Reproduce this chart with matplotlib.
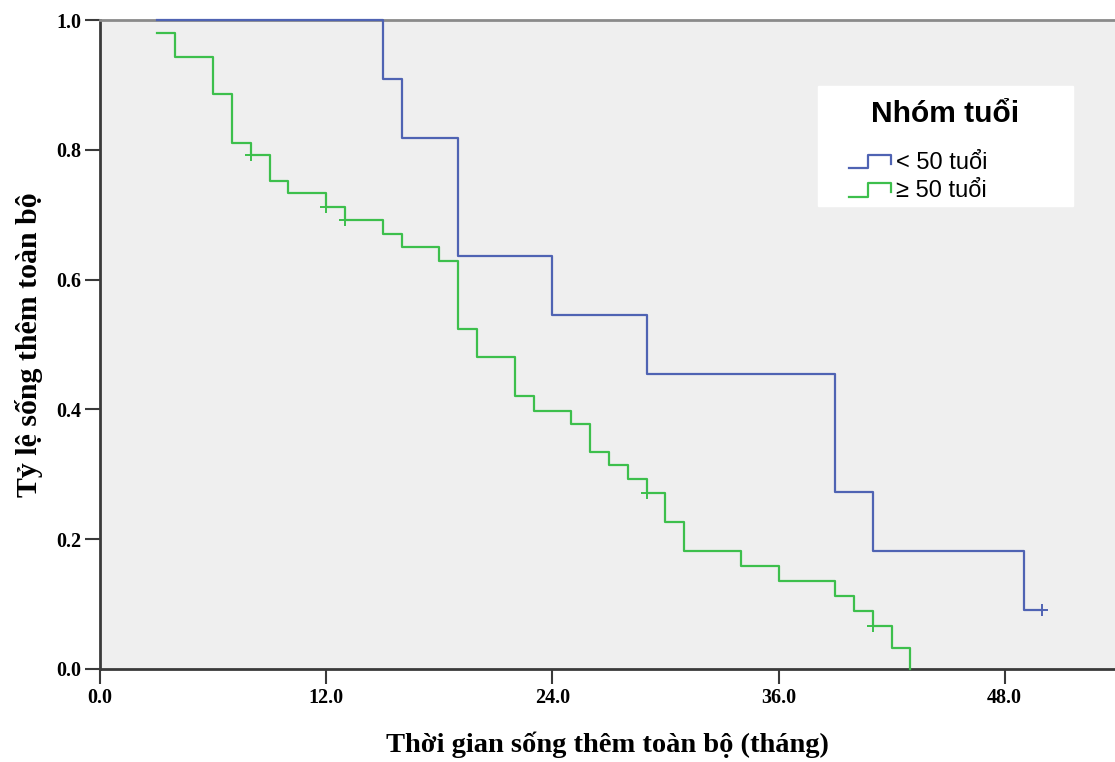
import matplotlib as mpl
mpl.use('Agg')
import matplotlib.pyplot as plt
from matplotlib.legend_handler import HandlerBase
from matplotlib.lines import Line2D
from matplotlib.ticker import FormatStrFormatter
import numpy as np

# Kaplan-Meier curves (months, survival)
young_t = [3, 15, 16, 19, 24, 29, 39, 41, 49, 50]
young_s = [1.0, 0.909, 0.818, 0.636, 0.545, 0.455, 0.273, 0.182, 0.091, 0.091]
young_cens_t = [50]
young_cens_s = [0.091]

old_t = [3, 4, 6, 7, 8, 9, 10, 12, 13, 15, 16, 18, 19, 20, 22, 23, 25, 26,
         27, 28, 29, 30, 31, 34, 36, 39, 40, 41, 42, 43]
old_s = [0.980, 0.943, 0.886, 0.810, 0.792, 0.752, 0.733, 0.712, 0.692,
         0.671, 0.651, 0.629, 0.524, 0.481, 0.420, 0.398, 0.378, 0.335,
         0.314, 0.293, 0.271, 0.227, 0.182, 0.159, 0.136, 0.112, 0.089,
         0.067, 0.032, 0.0]
old_cens_t = [8, 12, 13, 29, 41]
old_cens_s = [0.792, 0.712, 0.692, 0.271, 0.067]

labels = ['< 50 tuổi', '≥ 50 tuổi']
colors = ['#4f63b3', '#3dbf4c']
xticks = [0, 12, 24, 36, 48]
yticks = [0.0, 0.2, 0.4, 0.6, 0.8, 1.0]


class StepHandler(HandlerBase):
    # step-shaped legend key like SPSS, drawn in the right part of the slot
    def create_artists(self, legend, orig_handle, xdescent, ydescent,
                       width, height, fontsize, trans):
        xs = np.array([0.40, 0.68, 0.68, 1, 1]) * width - xdescent
        ys = np.array([0.05, 0.05, 0.85, 0.85, 0.3]) * height - ydescent
        ln = Line2D(xs, ys, color=orig_handle.get_color(),
                    lw=orig_handle.get_linewidth(), transform=trans)
        return [ln]


fig = plt.figure(figsize=(11.15, 7.62), dpi=100)
ax = fig.add_axes([100 / 1115, 1 - 669 / 762, 1 - 100 / 1115, 649 / 762])
ax.set_facecolor('#efefef')

h1, = ax.step(young_t, young_s, where='post', color=colors[0], lw=1.6,
              clip_on=False, zorder=5, label=labels[0])
ax.plot(young_cens_t, young_cens_s, '+', color=colors[0], ms=9, mew=1.4,
        clip_on=False, zorder=5)
h2, = ax.step(old_t, old_s, where='post', color=colors[1], lw=1.6,
              clip_on=False, zorder=5, label=labels[1])
ax.plot(old_cens_t, old_cens_s, '+', color=colors[1], ms=9, mew=1.4,
        clip_on=False, zorder=5)

ax.set_xlim(0, 53.85)
ax.set_ylim(0, 1.0)
ax.set_xticks(xticks)
ax.set_yticks(yticks)
ax.xaxis.set_major_formatter(FormatStrFormatter('%.1f'))
ax.yaxis.set_major_formatter(FormatStrFormatter('%.1f'))

for s in ['left', 'bottom']:
    ax.spines[s].set_color('#3a3a3a')
    ax.spines[s].set_linewidth(2.0)
ax.spines['top'].set_color('#8a8a8a')
ax.spines['top'].set_linewidth(2.0)
ax.spines['right'].set_visible(False)

ax.tick_params(direction='out', length=11, width=1.5, color='#3a3a3a',
               pad=2.5)
for lab in ax.get_xticklabels() + ax.get_yticklabels():
    lab.set_fontfamily('Liberation Serif')
    lab.set_fontweight('bold')
    lab.set_fontsize(14.5)

ax.set_xlabel('Thời gian sống thêm toàn bộ (tháng)', family='Liberation Serif',
              fontweight='bold', fontsize=20.5)
ax.set_ylabel('Tỷ lệ sống thêm toàn bộ', family='Liberation Serif',
              fontweight='bold', fontsize=21.5)
ax.xaxis.set_label_coords(0.5, -0.097)
ax.yaxis.set_label_coords(-0.056, 0.5)

leg = ax.legend(handles=[h1, h2], labels=labels, title='Nhóm tuổi',
                handler_map={Line2D: StepHandler()},
                loc='upper left', bbox_to_anchor=(0.707, 0.7, 0.2515, 0.198),
                mode='expand', borderaxespad=0, frameon=True, fancybox=False,
                facecolor='white', edgecolor='white', framealpha=1,
                prop={'family': 'Liberation Sans', 'size': 17},
                handlelength=2.94, handletextpad=0.25, labelspacing=0.28,
                borderpad=0.15)
leg.get_title().set_fontfamily('Liberation Sans')
leg.get_title().set_fontweight('bold')
leg.get_title().set_fontsize(21.5)
leg.get_title().set_position((0, -10.5))
leg._legend_box.sep = 24.5
leg.set_zorder(10)

fig.savefig('out.png', dpi=100)
